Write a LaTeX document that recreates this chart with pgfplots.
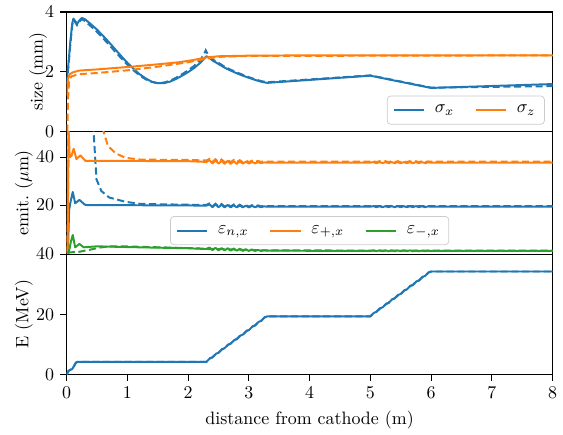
\documentclass[border=0pt]{standalone}
\usepackage{pgfplots}
\pgfplotsset{compat=1.18}
\definecolor{c0}{HTML}{1F77B4}
\definecolor{c1}{HTML}{FF7F0E}
\definecolor{c2}{HTML}{2CA02C}
\pgfplotsset{
  panel/.style={
    width=271pt, scale only axis, xmin=0, xmax=8,
    tick align=outside, xtick pos=bottom, ytick pos=left,
    major tick length=3.5pt,
    every tick/.append style={black, line width=0.6pt},
    axis line style={line width=0.6pt},
    legend cell align=left,
    legend style={draw=black!20, rounded corners=2pt, fill=white,
      fill opacity=0.8, text opacity=1, inner sep=3pt,
      /tikz/every odd column/.append style={column sep=3.4pt},
      /tikz/every even column/.append style={column sep=9.5pt}},
  },
  sol/.style={line width=1.1pt, line join=round},
  das/.style={line width=1.1pt, dash pattern=on 4pt off 2pt, forget plot},
}
\begin{document}
\begin{tikzpicture}
% --- beam size
\begin{axis}[panel, name=top, height=66.7pt,
  ymin=0, ymax=4, ytick={0,2,4}, xtick=\empty,
  ylabel={size (mm)}, ylabel shift=-8pt,
  legend columns=2,
  legend style={at={(0.984,0.058)}, anchor=south east}]
\addplot[c0, sol] coordinates {(0,1.7)(0.03,2.3)(0.06,3.0)(0.09,3.6)(0.11,3.78)(0.14,3.7)(0.17,3.6)(0.21,3.72)(0.25,3.8)(0.3,3.76)(0.4,3.59)(0.5,3.41)(0.6,3.2)(0.7,2.98)(0.8,2.75)(0.9,2.52)(1.0,2.3)(1.1,2.1)(1.2,1.92)(1.3,1.78)(1.4,1.67)(1.5,1.62)(1.6,1.62)(1.7,1.67)(1.8,1.76)(1.9,1.87)(2.0,1.99)(2.1,2.13)(2.2,2.3)(2.3,2.52)(2.35,2.47)(2.4,2.38)(2.5,2.26)(2.6,2.14)(2.7,2.04)(2.8,1.95)(2.9,1.87)(3.0,1.8)(3.1,1.73)(3.2,1.67)(3.3,1.63)(5.0,1.87)(6.0,1.46)(8,1.59)};
\addlegendentry{$\sigma_x$}
\addplot[c0, das] coordinates {(0,1.6)(0.03,2.2)(0.06,2.9)(0.09,3.55)(0.11,3.74)(0.14,3.66)(0.17,3.56)(0.21,3.68)(0.25,3.76)(0.3,3.7)(0.4,3.52)(0.5,3.33)(0.6,3.12)(0.7,2.9)(0.8,2.67)(0.9,2.45)(1.0,2.24)(1.1,2.05)(1.2,1.88)(1.3,1.75)(1.4,1.66)(1.5,1.62)(1.6,1.64)(1.7,1.7)(1.8,1.8)(1.9,1.92)(2.0,2.05)(2.1,2.2)(2.2,2.4)(2.26,2.58)(2.29,2.72)(2.32,2.6)(2.36,2.5)(2.4,2.42)(2.5,2.3)(2.6,2.17)(2.7,2.07)(2.8,1.98)(2.9,1.9)(3.0,1.82)(3.1,1.75)(3.2,1.69)(3.3,1.65)(5.0,1.88)(6.0,1.47)(8,1.52)};
\addplot[c1, sol] coordinates {(0,1.2)(0.02,1.75)(0.05,1.92)(0.1,1.98)(0.2,2.04)(0.5,2.08)(1.0,2.16)(1.5,2.25)(1.85,2.32)(2.1,2.4)(2.3,2.48)(2.5,2.52)(3.0,2.54)(4.0,2.55)(8,2.55)};
\addlegendentry{$\sigma_z$}
\addplot[c1, das] coordinates {(0.01,0)(0.02,1.0)(0.04,1.7)(0.08,1.85)(0.2,1.92)(0.5,1.96)(1.0,2.05)(1.5,2.17)(2.0,2.32)(2.3,2.44)(2.5,2.5)(3.0,2.53)(8,2.55)};
\end{axis}
% --- emittance
\begin{axis}[panel, name=mid, at={(top.south west)}, anchor=north west,
  height=68.3pt, ymin=-0.3, ymax=50.6, ytick={20,40}, xtick=\empty,
  ylabel={emit.\ ($\mu$m)}, ylabel shift=-5pt,
  legend columns=3,
  legend style={at={(0.5,0.073)}, anchor=south}]
\addplot[c0, sol] coordinates {(0.02,0)(0.04,18)(0.06,21)(0.10,25.5)(0.14,20.8)(0.21,22.2)(0.3,20.2)(0.35,20.0)(1.0,20.0)(2.0,19.9)(2.30,19.8)(2.35,20.4)(2.40,19.2)(2.45,20.3)(2.50,19.2)(2.55,20.2)(2.60,19.1)(2.65,20.1)(2.70,19.1)(2.75,20.0)(2.80,19.1)(2.85,19.9)(2.90,19.1)(2.95,19.8)(3.00,19.1)(3.05,19.7)(3.10,19.2)(3.15,19.6)(3.20,19.2)(3.25,19.5)(3.30,19.4)(5.00,19.4)(5.05,19.6)(5.10,19.2)(5.15,19.6)(5.20,19.2)(5.25,19.6)(5.30,19.2)(5.35,19.6)(5.40,19.2)(5.45,19.6)(5.50,19.2)(5.55,19.6)(5.60,19.2)(5.65,19.6)(5.70,19.2)(5.75,19.6)(5.80,19.2)(5.85,19.6)(5.90,19.2)(5.95,19.5)(6.00,19.4)(8,19.4)};
\addlegendentry{$\varepsilon_{n,x}$}
\addplot[c0, das] coordinates {(0.02,0)(0.03,60)(0.44,52)(0.49,30.8)(0.57,25.9)(0.7,23.2)(0.97,21.4)(1.2,20.6)(1.5,20.4)(2.0,20.2)(2.30,20.1)(2.35,20.7)(2.40,19.5)(2.45,20.6)(2.50,19.5)(2.55,20.5)(2.60,19.4)(2.65,20.4)(2.70,19.4)(2.75,20.3)(2.80,19.4)(2.85,20.2)(2.90,19.4)(2.95,20.1)(3.00,19.4)(3.05,20.0)(3.10,19.5)(3.15,19.9)(3.20,19.5)(3.25,19.8)(3.30,19.6)(8,19.6)};
\addplot[c1, sol] coordinates {(0.015,0)(0.03,52)(0.05,40)(0.08,40.5)(0.115,43.5)(0.16,39.2)(0.225,40.7)(0.31,38.4)(1.0,38.4)(2.0,38.3)(2.30,38.0)(2.35,38.7)(2.40,37.4)(2.45,38.6)(2.50,37.3)(2.55,38.5)(2.60,37.2)(2.65,38.4)(2.70,37.2)(2.75,38.3)(2.80,37.2)(2.85,38.2)(2.90,37.3)(2.95,38.1)(3.00,37.3)(3.05,38.0)(3.10,37.4)(3.15,37.9)(3.20,37.5)(3.25,37.8)(3.30,37.7)(5.00,37.7)(5.05,37.9)(5.10,37.5)(5.15,37.9)(5.20,37.5)(5.25,37.9)(5.30,37.5)(5.35,37.9)(5.40,37.5)(5.45,37.9)(5.50,37.5)(5.55,37.9)(5.60,37.5)(5.65,37.9)(5.70,37.5)(5.75,37.9)(5.80,37.5)(5.85,37.9)(5.90,37.5)(5.95,37.8)(6.00,37.7)(8,37.7)};
\addlegendentry{$\varepsilon_{+,x}$}
\addplot[c1, das] coordinates {(0.015,0)(0.025,60)(0.59,52)(0.68,44.6)(0.81,41.5)(0.97,39.7)(1.2,39.0)(1.5,38.9)(2.0,38.8)(2.30,38.6)(2.35,39.2)(2.40,38.0)(2.45,39.1)(2.50,37.9)(2.55,39.0)(2.60,37.9)(2.65,38.9)(2.70,37.9)(2.75,38.8)(2.80,37.9)(2.85,38.7)(2.90,37.9)(2.95,38.6)(3.00,37.9)(3.05,38.5)(3.10,38.0)(3.15,38.4)(3.20,38.0)(3.25,38.3)(3.30,38.1)(5.00,38.1)(5.05,38.3)(5.10,37.9)(5.15,38.3)(5.20,37.9)(5.25,38.3)(5.30,37.9)(5.35,38.3)(5.40,37.9)(5.45,38.3)(5.50,37.9)(5.55,38.3)(5.60,37.9)(5.65,38.3)(5.70,37.9)(5.75,38.3)(5.80,37.9)(5.85,38.3)(5.90,37.9)(5.95,38.2)(6.00,38.1)(8,38.1)};
\addplot[c2, sol] coordinates {(0.02,0)(0.04,1)(0.07,5)(0.10,7.6)(0.14,2.5)(0.21,3.9)(0.28,2.5)(0.5,2.9)(1.0,2.6)(2.0,2.1)(2.30,1.8)(2.35,2.4)(2.40,1.3)(2.45,2.3)(2.50,1.2)(2.55,2.2)(2.60,1.2)(2.65,2.1)(2.70,1.1)(2.75,2.0)(2.80,1.1)(2.85,1.9)(2.90,1.0)(2.95,1.7)(3.00,1.0)(3.05,1.6)(3.10,1.0)(3.15,1.4)(3.20,1.0)(3.25,1.3)(3.30,1.1)(5.00,1.0)(5.05,1.2)(5.10,0.9)(5.15,1.2)(5.20,0.9)(5.25,1.2)(5.30,0.9)(5.35,1.2)(5.40,0.9)(5.45,1.2)(5.50,0.9)(5.55,1.2)(5.60,0.9)(5.65,1.2)(5.70,0.9)(5.75,1.1)(5.80,0.9)(5.85,1.1)(5.90,0.9)(5.95,1.1)(6.00,1.0)(8,1.0)};
\addlegendentry{$\varepsilon_{-,x}$}
\addplot[c2, das] coordinates {(0.02,0)(0.05,0.4)(0.2,0.6)(0.38,1.5)(0.55,2.4)(0.7,2.9)(1.0,2.9)(1.2,2.7)(2.0,2.2)(2.3,1.9)(3.3,1.2)(8,1.1)};
\end{axis}
% --- energy
\begin{axis}[panel, name=bot, at={(mid.south west)}, anchor=north west,
  height=67.2pt, ymin=0, ymax=40, ytick={0,20,40}, xtick={0,1,...,8},
  xlabel={distance from cathode (m)}, ylabel={E (MeV)}, ylabel shift=-5pt]
\addplot[c0, sol] coordinates {(0,0)(0.03,1.2)(0.06,1.6)(0.09,1.8)(0.12,2.8)(0.15,3.9)(0.18,4.2)(2.30,4.2)(2.36,5.4)(2.40,5.71)(2.46,6.91)(2.50,7.22)(2.56,8.42)(2.60,8.73)(2.66,9.93)(2.70,10.24)(2.76,11.44)(2.80,11.75)(2.86,12.95)(2.90,13.26)(2.96,14.46)(3.00,14.77)(3.06,15.97)(3.10,16.28)(3.16,17.48)(3.20,17.79)(3.26,18.99)(3.30,19.3)(5.00,19.3)(5.06,20.49)(5.10,20.79)(5.16,21.98)(5.20,22.28)(5.26,23.47)(5.30,23.77)(5.36,24.96)(5.40,25.26)(5.46,26.45)(5.50,26.75)(5.56,27.94)(5.60,28.24)(5.66,29.43)(5.70,29.73)(5.76,30.92)(5.80,31.22)(5.86,32.41)(5.90,32.71)(5.96,33.9)(6.00,34.2)(8,34.2)};
\addplot[c0, das] coordinates {(0,0)(0.03,1.2)(0.06,1.6)(0.09,1.8)(0.12,2.8)(0.15,3.9)(0.18,4.2)(2.30,4.2)(2.36,5.4)(2.40,5.71)(2.46,6.91)(2.50,7.22)(2.56,8.42)(2.60,8.73)(2.66,9.93)(2.70,10.24)(2.76,11.44)(2.80,11.75)(2.86,12.95)(2.90,13.26)(2.96,14.46)(3.00,14.77)(3.06,15.97)(3.10,16.28)(3.16,17.48)(3.20,17.79)(3.26,18.99)(3.30,19.3)(5.00,19.3)(5.06,20.49)(5.10,20.79)(5.16,21.98)(5.20,22.28)(5.26,23.47)(5.30,23.77)(5.36,24.96)(5.40,25.26)(5.46,26.45)(5.50,26.75)(5.56,27.94)(5.60,28.24)(5.66,29.43)(5.70,29.73)(5.76,30.92)(5.80,31.22)(5.86,32.41)(5.90,32.71)(5.96,33.9)(6.00,34.2)(8,34.2)};
\end{axis}
\path ([shift={(-37.2pt,6.7pt)}]top.north west) rectangle ([shift={(4.4pt,-29.4pt)}]bot.south east);
\end{tikzpicture}
\end{document}
